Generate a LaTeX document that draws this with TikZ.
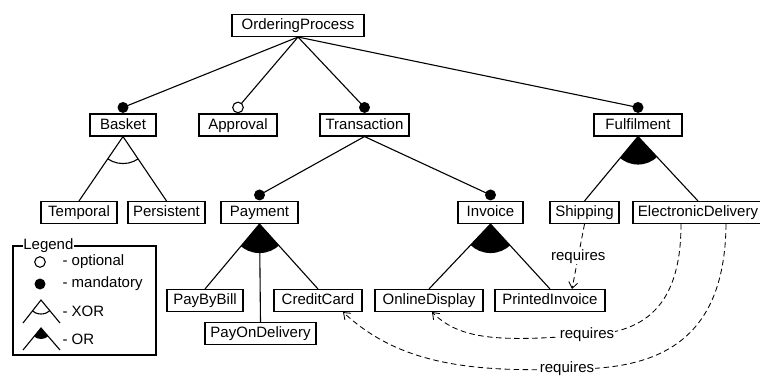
\documentclass[tikz,border=0pt]{standalone}
\usepackage{fontspec}
\setmainfont{Liberation Sans}
\usetikzlibrary{arrows.meta,calc}
\begin{document}
\begin{tikzpicture}[x=1pt,y=-1pt, line width=1.1pt,
  txt/.style={font=\fontsize{15}{18}\selectfont},
  feat/.style={draw, rectangle, txt, minimum height=22pt, inner sep=0pt, text height=10.8pt, text depth=2pt},
  req/.style={dash pattern=on 5.5pt off 3.5pt, line width=0.85pt, -{Straight Barb[length=6pt,width=9pt]}},
  reqlbl/.style={txt, fill=white, inner sep=1pt},
]
\useasboundingbox (0,0) rectangle (760,376);
% feature nodes
\node[feat, minimum width=132pt] (OP) at (298,25.5) {OrderingProcess};
\node[feat, minimum width=66pt] (Basket) at (123,125) {Basket};
\node[feat, minimum width=78pt] (Approval) at (238,125) {Approval};
\node[feat, minimum width=89pt] (Transaction) at (364.5,125) {Transaction};
\node[feat, minimum width=88pt] (Fulfilment) at (638,125) {Fulfilment};
\node[feat, minimum width=76pt] (Temporal) at (79,212.5) {Temporal};
\node[feat, minimum width=77pt] (Persistent) at (166.5,212.5) {Persistent};
\node[feat, minimum width=77pt] (Payment) at (259.5,212.5) {Payment};
\node[feat, minimum width=65pt] (Invoice) at (490.5,212.5) {Invoice};
\node[feat, minimum width=69pt] (Shipping) at (584.5,212.5) {Shipping};
\node[feat, minimum width=130pt] (ED) at (698,212.5) {ElectronicDelivery};
\node[feat, minimum width=76pt] (PayByBill) at (205,300.5) {PayByBill};
\node[feat, minimum width=111pt] (POD) at (260.5,333.5) {PayOnDelivery};
\node[feat, minimum width=88pt] (CreditCard) at (318,300.5) {CreditCard};
\node[feat, minimum width=108pt] (OnlineDisplay) at (429,300.5) {OnlineDisplay};
\node[feat, minimum width=110pt] (PrintedInvoice) at (550,300.5) {PrintedInvoice};

% attachment points
\coordinate (dBasket) at ([yshift=6pt]Basket.north);
\coordinate (dApproval) at ([yshift=6pt]Approval.north);
\coordinate (dTransaction) at ([yshift=6pt]Transaction.north);
\coordinate (dFulfilment) at ([yshift=6pt]Fulfilment.north);
\coordinate (dPayment) at ([yshift=6pt]Payment.north);
\coordinate (dInvoice) at ([yshift=6pt]Invoice.north);

% edges
\draw (OP.south) -- (dBasket);
\draw (OP.south) -- (dApproval);
\draw (OP.south) -- (dTransaction);
\draw (OP.south) -- (dFulfilment);
\draw (Transaction.south) -- (dPayment);
\draw (Transaction.south) -- (dInvoice);
\fill (dBasket) circle (5.5pt);
\draw[fill=white] (dApproval) circle (5.3pt);
\fill (dTransaction) circle (5.5pt);
\fill (dFulfilment) circle (5.5pt);
\fill (dPayment) circle (5.5pt);
\fill (dInvoice) circle (5.5pt);

% Basket XOR
\begin{scope}
\clip (Basket.south) -- (Temporal.north) -- (Persistent.north) -- cycle;
\draw (Basket.south) circle (27pt);
\end{scope}
\draw (Basket.south) -- (Temporal.north);
\draw (Basket.south) -- (Persistent.north);

% Payment OR
\begin{scope}
\clip (Payment.south) -- (PayByBill.north) -- (CreditCard.north) -- cycle;
\fill (Payment.south) circle (29pt);
\end{scope}
\draw (Payment.south) -- (PayByBill.north);
\draw (Payment.south) -- (POD.north);
\draw (Payment.south) -- (CreditCard.north);

% Invoice OR
\begin{scope}
\clip (Invoice.south) -- (OnlineDisplay.north) -- (PrintedInvoice.north) -- cycle;
\fill (Invoice.south) circle (29pt);
\end{scope}
\draw (Invoice.south) -- (OnlineDisplay.north);
\draw (Invoice.south) -- (PrintedInvoice.north);

% Fulfilment OR
\begin{scope}
\clip (Fulfilment.south) -- (Shipping.north) -- (ED.north) -- cycle;
\fill (Fulfilment.south) circle (28pt);
\end{scope}
\draw (Fulfilment.south) -- (Shipping.north);
\draw (Fulfilment.south) -- (ED.north);

% requires
\draw[req] (Shipping.south) -- node[reqlbl] {requires} ([xshift=22pt]PrintedInvoice.north);
\draw[req] ([xshift=-17pt]ED.south) .. controls (681,300) and (650,333) .. (587,335)
  node[reqlbl] {requires}
  .. controls (500,342) and (460,340) .. ([xshift=3pt]OnlineDisplay.south);
\draw[req] ([xshift=28pt]ED.south) .. controls (725,348) and (650,370) .. (567,369)
  node[reqlbl] {requires}
  .. controls (460,373) and (395,360) .. ([xshift=25pt]CreditCard.south);

% legend
\node[draw, minimum width=143pt, minimum height=109pt, inner sep=0pt] (legend) at (84.5,300.5) {};
\node[txt, fill=white, inner sep=0.8pt, anchor=west] (legtitle) at (22,245.5) {Legend};
\coordinate (lopt) at (40,262);
\coordinate (lmand) at (40,284);
\draw (lopt) circle (5.3pt);
\fill (lmand) circle (5.5pt);
\node[txt, anchor=west, inner sep=0pt] (toptional) at (62,262) {- optional};
\node[txt, anchor=west, inner sep=0pt] (tmand) at (62,284) {- mandatory};
\coordinate (xa) at (41,300);
\coordinate (xl) at (23,323);
\coordinate (xr) at (60,323);
\begin{scope}
\clip (xa) -- (xl) -- (xr) -- cycle;
\draw (xa) circle (14pt);
\end{scope}
\draw (xl) -- (xa) -- (xr);
\node[txt, anchor=west, inner sep=0pt] (txor) at (62,311) {- XOR};
\coordinate (oa) at (41,328);
\coordinate (ol) at (23,350);
\coordinate (or) at (60,350);
\begin{scope}
\clip (oa) -- (ol) -- (or) -- cycle;
\fill (oa) circle (11pt);
\end{scope}
\draw (ol) -- (oa) -- (or);
\node[txt, anchor=west, inner sep=0pt] (tor) at (62,339) {- OR};
\end{tikzpicture}
\end{document}
